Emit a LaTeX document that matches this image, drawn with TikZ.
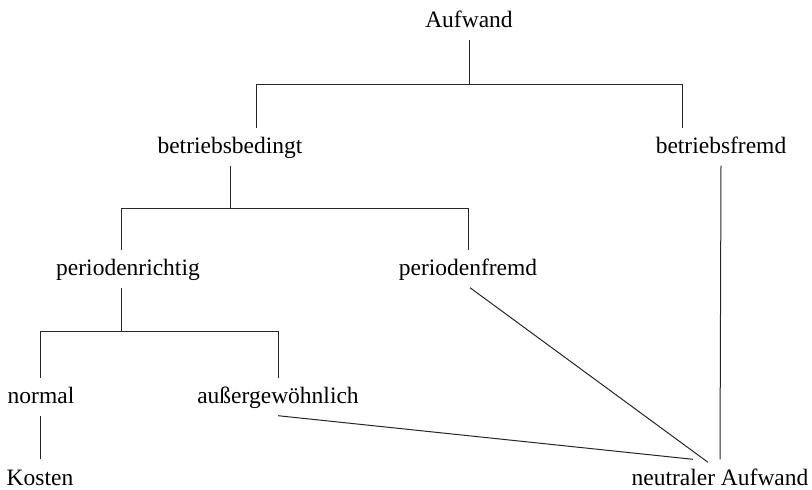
\documentclass[tikz,border=0pt]{standalone}
\usepackage{fontspec}
\setmainfont{Liberation Serif}
\begin{document}
\begin{tikzpicture}[x=1pt,y=-1pt,
  term/.style={anchor=base,inner xsep=0pt,inner ysep=7.5pt,
    text height=17pt,text depth=5pt,
    font=\fontsize{23.5}{28}\selectfont},
  leaf/.style={term,inner ysep=1pt,text height=21.5pt,text depth=0pt},
  link/.style={draw=black!85,line width=1pt}]
\useasboundingbox (0,0) rectangle (812,490);

% terms
\node[term] (auf) at (469,27)  {Aufwand};
\node[term] (bb)  at (230,153) {betriebsbedingt};
\node[term] (bf)  at (721,153) {betriebsfremd};
\node[term] (pr)  at (128,275) {periodenrichtig};
\node[term] (pf)  at (468,275) {periodenfremd};
\node[term] (nm)  at (41,403)  {normal};
\node[term] (ag)  at (278,403) {außergewöhnlich};
\node[leaf] (ko)  at (40,485)  {Kosten};
\node[leaf] (na)  at (720,485) {neutraler Aufwand};

% bus corners of the tree
\coordinate (b1L) at (256,84);
\coordinate (b1R) at (682,84);
\coordinate (b2L) at (121,208);
\coordinate (b2R) at (468,208);
\coordinate (b3L) at (40,331);
\coordinate (b3R) at (278,331);

% Aufwand -> betriebsbedingt / betriebsfremd
\draw[link] (auf.south) -- (auf.south |- b1L);
\draw[link] (bb.north -| b1L) -- (b1L) -- (b1R) -- (bf.north -| b1R);

% betriebsbedingt -> periodenrichtig / periodenfremd
\draw[link] (bb.south) -- (bb.south |- b2L);
\draw[link] (pr.north -| b2L) -- (b2L) -- (b2R) -- (pf.north -| b2R);

% periodenrichtig -> normal / aussergewoehnlich
\draw[link] (pr.south -| b2L) -- (b2L |- b3L);
\draw[link] (nm.north -| b3L) -- (b3L) -- (b3R) -- (ag.north -| b3R);

% normal -> Kosten
\draw[link] (nm.south -| b3L) -- ([yshift=3pt]ko.north -| b3L);

% the three routes into neutraler Aufwand
\draw[link] (bf.south) -- ([yshift=3pt]na.north);
\draw[link] ([xshift=2pt]pf.south) -- ([xshift=-12pt]na.north);
\draw[link] (ag.south) -- ([xshift=-27pt,yshift=3pt]na.north);
\end{tikzpicture}
\end{document}
